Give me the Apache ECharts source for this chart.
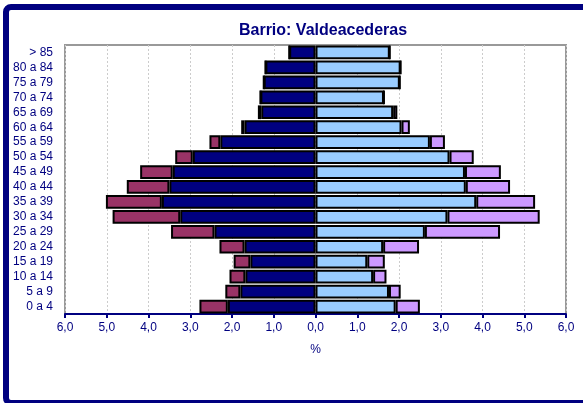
<!DOCTYPE html>
<html>
<head>
<meta charset="utf-8">
<script src="https://cdn.jsdelivr.net/npm/echarts@6/dist/echarts.min.js"></script>
<style>
html,body{margin:0;padding:0;background:#fff;}
#c{width:583px;height:403px;}
</style>
</head>
<body>
<div id="c"></div>
<script>
var categories = ['0 a 4','5 a 9','10 a 14','15 a 19','20 a 24','25 a 29','30 a 34','35 a 39','40 a 44','45 a 49','50 a 54','55 a 59','60 a 64','65 a 69','70 a 74','75 a 79','80 a 84','> 85'];
var menSpanish   = [2.10,1.80,1.68,1.56,1.70,2.42,3.24,3.68,3.50,3.42,2.94,2.28,1.70,1.30,1.32,1.24,1.20,0.63];
var menForeign   = [0.68,0.36,0.38,0.40,0.60,1.04,1.62,1.34,1.02,0.78,0.42,0.26,0.08,0.08,0.00,0.00,0.00,0.00];
var womenSpanish = [1.92,1.76,1.38,1.24,1.62,2.62,3.16,3.85,3.60,3.58,3.21,2.74,2.06,1.86,1.64,2.02,2.04,1.78];
var womenForeign = [0.58,0.28,0.32,0.42,0.86,1.80,2.21,1.41,1.06,0.86,0.58,0.36,0.20,0.10,0.00,0.00,0.00,0.00];
var xTicks = [-6,-5,-4,-3,-2,-1,0,1,2,3,4,5,6];
var titleText = 'Barrio: Valdeacederas';
var xName = '%';
</script>
<script>
var NAVY = '#000080';
var FONT = 'Arial, "Liberation Sans", sans-serif';
var neg = function(a){ return a.map(function(v){ return -v; }); };
var chart = echarts.init(document.getElementById('c'), null, {renderer:'canvas'});
function barSeries(name, data, color){
  return {
    name: name, type: 'bar', stack: 'p', data: data,
    barCategoryGap: '8%',
    itemStyle: { color: color, borderColor: '#000', borderWidth: 2 },
    emphasis: { disabled: true }
  };
}
chart.setOption({
  animation: false,
  graphic: [{
    type: 'rect', silent: true, z: -10,
    shape: { x: 6, y: 7, width: 620, height: 396, r: 5 },
    style: { fill: '#fff', stroke: NAVY, lineWidth: 6 }
  }],
  title: {
    text: titleText, left: 318, top: 18, textAlign: 'center',
    textStyle: { color: NAVY, fontFamily: FONT, fontSize: 16, fontWeight: 'bold' }
  },
  grid: { left: 65, right: 17, top: 45, bottom: 89, show: true, borderColor: '#999', borderWidth: 2, backgroundColor: 'transparent' },
  xAxis: {
    type: 'value', min: xTicks[0], max: xTicks[xTicks.length-1], interval: 1,
    name: xName, nameLocation: 'middle', nameGap: 30,
    nameTextStyle: { color: NAVY, fontFamily: FONT, fontSize: 12 },
    axisLine: { show: true, onZero: false, lineStyle: { color: NAVY, width: 2 } },
    axisTick: { show: true, length: 4, lineStyle: { color: NAVY, width: 2 } },
    axisLabel: { color: NAVY, fontFamily: FONT, fontSize: 12, margin: 8,
      formatter: function(v){ return Math.abs(v).toFixed(1).replace('.', ','); } },
    splitLine: { show: true, lineStyle: { color: '#ccc', type: [2,2], width: 1 } }
  },
  yAxis: {
    type: 'category', data: categories,
    axisLine: { show: false }, axisTick: { show: false },
    axisLabel: { color: NAVY, fontFamily: FONT, fontSize: 12, margin: 12, interval: 0 },
    splitLine: { show: false }
  },
  series: [
    barSeries('Hombres españoles', neg(menSpanish), '#000080'),
    barSeries('Hombres extranjeros', neg(menForeign), '#993366'),
    barSeries('Mujeres españolas', womenSpanish, '#99CCFF'),
    barSeries('Mujeres extranjeras', womenForeign, '#CC99FF')
  ]
});
</script>
</body>
</html>
